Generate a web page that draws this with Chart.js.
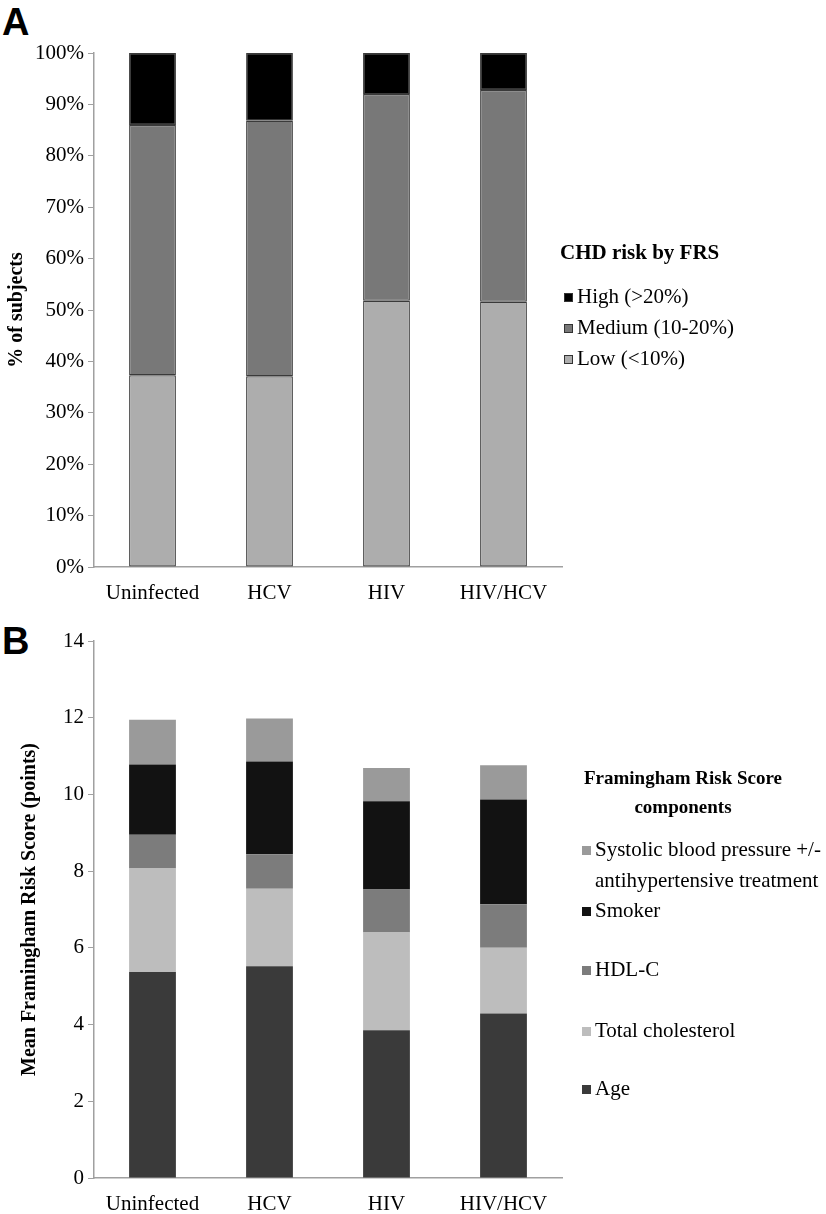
<!DOCTYPE html>
<html>
<head>
<meta charset="utf-8">
<script src="https://cdn.jsdelivr.net/npm/chart.js@4"></script>
<style>
  body{margin:0;background:#fff;width:826px;height:1214px;position:relative;overflow:hidden;font-family:'Liberation Serif','Times New Roman',serif;}
  .panel{position:absolute;left:0;}
  .tag{position:absolute;left:2px;font:bold 38px 'Liberation Sans',Arial,sans-serif;line-height:1;}
  .lg{position:absolute;font-family:'Liberation Serif','Times New Roman',serif;font-size:21px;line-height:1;color:#000;}
  .lg-title{font-weight:bold;text-align:center;}
  .lg-item{position:absolute;white-space:nowrap;}
  .lg-item i{display:inline-block;width:9px;height:9px;margin-right:4px;vertical-align:1px;box-sizing:border-box;}
</style>
</head>
<body>
<div class="tag" style="top:3px">A</div>
<div class="tag" style="top:622px">B</div>
<div class="panel" style="top:0;width:580px;height:610px"><canvas id="chartA"></canvas></div>
<div class="panel" style="top:620px;width:580px;height:601px"><canvas id="chartB"></canvas></div>
<div class="lg" id="legendA" style="left:560px;top:242px;width:266px;height:140px"></div>
<div class="lg" id="legendB" style="left:572px;top:763px;width:254px;height:350px"></div>
<script>
// ── data ─────────────────────────────
const groups = ['Uninfected','HCV','HIV','HIV/HCV'];

// panel A: % of subjects by FRS risk band
const riskLow    = [37.3, 37.1, 51.8, 51.6];
const riskMedium = [48.7, 49.7, 40.2, 41.2];
const riskHigh   = [14.0, 13.2,  8.0,  7.2];

// panel B: mean FRS points by component
const ptsAge     = [5.37, 5.52, 3.85, 4.29];
const ptsChol    = [2.70, 2.02, 2.55, 1.71];
const ptsHdl     = [0.88, 0.90, 1.12, 1.14];
const ptsSmoker  = [1.83, 2.42, 2.30, 2.73];
const ptsSbp     = [1.17, 1.12, 0.87, 0.89];

const SERIF = "'Liberation Serif','Times New Roman',serif";
const AXIS = '#a0a0a0';

function scalesFor(yMax, step, fmt, title, titlePad){
  return {
    x:{stacked:true,
       grid:{display:false},
       border:{display:true,color:AXIS,width:1.5},
       ticks:{color:'#000',font:{family:SERIF,size:21},padding:6},
       afterFit:s=>{s.height=43;}},
    y:{stacked:true,min:0,max:yMax,
       grid:{drawOnChartArea:false,drawTicks:true,tickLength:6,color:AXIS},
       border:{display:true,color:AXIS,width:1.5},
       ticks:{stepSize:step,color:'#000',font:{family:SERIF,size:21},padding:4,callback:fmt},
       title:{display:true,text:title,color:'#000',font:{family:SERIF,size:20,weight:'bold'},padding:{top:titlePad,bottom:0}},
       afterFit:s=>{s.width=94;}}
  };
}

function ds(label,data,color,border){
  return {label,data,backgroundColor:color,
    borderColor:border?'#3a3a3a':color,borderWidth:border?1.2:0,borderSkipped:false,
    categoryPercentage:1,barPercentage:0.4};
}

new Chart(document.getElementById('chartA'),{
  type:'bar',
  data:{labels:groups,datasets:[
    ds('Low (<10%)',riskLow,'#adadad',true),
    ds('Medium (10-20%)',riskMedium,'#787878',true),
    ds('High (>20%)',riskHigh,'#000000',true)
  ]},
  options:{responsive:true,maintainAspectRatio:false,animation:false,
    layout:{padding:{top:53,right:18,left:0,bottom:0}},
    plugins:{legend:{display:false},tooltip:{enabled:false}},
    scales:scalesFor(100,10,v=>v+'%','% of subjects',5)}
});

new Chart(document.getElementById('chartB'),{
  type:'bar',
  data:{labels:groups,datasets:[
    ds('Age',ptsAge,'#3a3a3a'),
    ds('Total cholesterol',ptsChol,'#bdbdbd'),
    ds('HDL-C',ptsHdl,'#7c7c7c'),
    ds('Smoker',ptsSmoker,'#121212'),
    ds('Systolic blood pressure +/- antihypertensive treatment',ptsSbp,'#9a9a9a')
  ]},
  options:{responsive:true,maintainAspectRatio:false,animation:false,
    layout:{padding:{top:21,right:18,left:0,bottom:0}},
    plugins:{legend:{display:false},tooltip:{enabled:false}},
    scales:scalesFor(14,2,v=>v,'Mean Framingham Risk Score (points)',18)}
});

// ── legends ──────────────────────────
function legendItem(txt,color,border,left,top){
  return `<div class="lg-item" style="left:${left}px;top:${top}px"><i style="background:${color};${border?'border:1px solid #333':''}"></i>${txt}</div>`;
}
document.getElementById('legendA').innerHTML=
  `<div class="lg-title" style="position:absolute;left:0;top:0">CHD risk by FRS</div>`+
  legendItem('High (&gt;20%)','#000000',true,4,44)+
  legendItem('Medium (10-20%)','#787878',true,4,75)+
  legendItem('Low (&lt;10%)','#adadad',true,4,106);

document.getElementById('legendB').innerHTML=
  `<div class="lg-title" style="position:absolute;left:0;top:0;width:222px;line-height:29px;font-size:19px">Framingham Risk Score<br>components</div>`+
  legendItem('Systolic blood pressure +/-<br><span style="display:inline-block;margin-left:13px;margin-top:10px">antihypertensive treatment</span>','#9a9a9a',false,10,76)+
  legendItem('Smoker','#121212',false,10,137)+
  legendItem('HDL-C','#7c7c7c',false,10,196)+
  legendItem('Total cholesterol','#bdbdbd',false,10,257)+
  legendItem('Age','#3a3a3a',false,10,315);
</script>
</body>
</html>
